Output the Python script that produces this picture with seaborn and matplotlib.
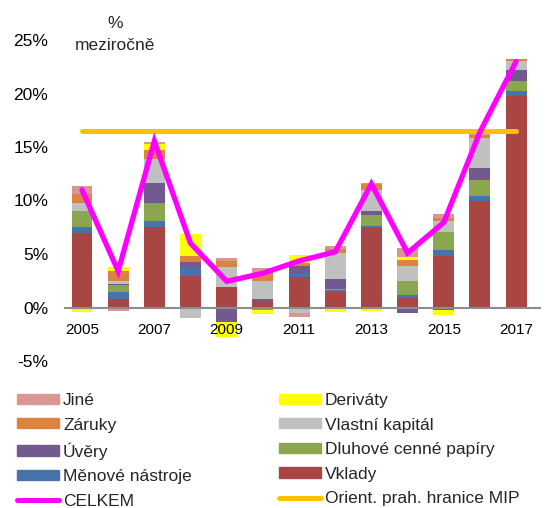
import numpy as np
import matplotlib
matplotlib.use("Agg")
import matplotlib.pyplot as plt
import seaborn as sns
from matplotlib.patches import Patch
from matplotlib.lines import Line2D

# ---------------- data ----------------
years = list(range(2005, 2018))
x_tick_labels = ["2005", "2007", "2009", "2011", "2013", "2015", "2017"]
y_ticks = [-5, 0, 5, 10, 15, 20, 25]

vklady = [6.95, 0.75, 7.5, 2.95, 1.95, 0.6, 2.85, 1.45, 7.45, 0.85, 4.85, 9.95, 19.8]
menove = [0.55, 0.7, 0.55, 0.7, -0.15, 0.0, 0.3, 0.15, 0.2, 0.35, 0.5, 0.5, 0.4]
dluhove = [1.55, 0.65, 1.7, 0.0, 0.0, -0.2, 0.0, 0.1, 0.95, 1.3, 1.7, 1.45, 0.95]
uvery = [-0.1, 0.1, 1.85, 0.6, -1.2, 0.15, 0.75, 1.0, 0.4, -0.5, -0.25, 1.1, 1.05]
vlastni = [0.75, 0.3, 2.3, -0.95, 1.8, 1.7, -0.5, 2.35, 1.95, 1.4, 1.0, 2.85, 0.8]
zaruky = [0.85, 0.95, 0.85, 0.6, 0.6, 0.8, 0.3, 0.4, 0.55, 0.55, 0.3, 0.3, 0.25]
derivaty = [-0.3, 0.3, 0.5, 2.0, -1.4, -0.4, 0.75, -0.45, -0.3, 0.3, -0.45, 0.0, 0.0]
jine = [0.7, -0.35, 0.25, 0.0, 0.25, 0.45, -0.35, 0.3, 0.15, 0.8, 0.4, 0.05, -0.15]
celkem = [11.0, 3.4, 15.55, 6.0, 2.45, 3.2, 4.35, 5.2, 11.55, 5.1, 7.95, 16.4, 23.0]
mip_threshold = 16.5

# stacking order bottom -> top
series = [
    ("Vklady", vklady, "#A94543"),
    ("Měnové nástroje", menove, "#4673AA"),
    ("Dluhové cenné papíry", dluhove, "#8AA64F"),
    ("Úvěry", uvery, "#725A90"),
    ("Vlastní kapitál", vlastni, "#C0C0C0"),
    ("Záruky", zaruky, "#DC843F"),
    ("Deriváty", derivaty, "#FFFF00"),
    ("Jiné", jine, "#D99694"),
]
col = {n: c for n, _, c in series}

sns.set_theme(style="white")
plt.rcParams["font.family"] = ["Liberation Sans", "DejaVu Sans"]

W, H = 545, 508
fig = plt.figure(figsize=(W / 100, H / 100), dpi=100)
ax = fig.add_axes([65 / W, 1 - 361 / H, 475 / W, 321 / H])

# cumulative levels for stacked bars (positive and negative separately)
pos_cum = np.zeros(len(years))
neg_cum = np.zeros(len(years))
pos_levels, neg_levels = [], []
for name, vals, c in series:
    v = np.array(vals, dtype=float)
    pos_cum = pos_cum + np.clip(v, 0, None)
    neg_cum = neg_cum + np.clip(v, None, 0)
    pos_levels.append((pos_cum.copy(), c))
    neg_levels.append((neg_cum.copy(), c))

for levels in (pos_levels, neg_levels):
    for lev, c in reversed(levels):
        sns.barplot(x=years, y=lev, color=c, saturation=1, width=0.58,
                    native_scale=True, errorbar=None, linewidth=0,
                    edgecolor="none", ax=ax, zorder=1)

sns.lineplot(x=[years[0], years[-1]], y=[mip_threshold, mip_threshold],
             color="#FFC000", linewidth=3.6, solid_capstyle="round", ax=ax,
             zorder=3)
sns.lineplot(x=years, y=celkem, color="#FF00FF", linewidth=3.8,
             solid_capstyle="round", solid_joinstyle="miter", ax=ax, zorder=4)

ax.set_axisbelow(False)
ax.set_ylim(-5, 25)
ax.set_xlim(years[0] - 0.47, years[-1] + 0.66)
ax.set_yticks(y_ticks)
ax.set_yticklabels([f"{t}%" for t in y_ticks], fontsize=12.5)
ax.set_xticks([int(t) for t in x_tick_labels])
ax.set_xticklabels(x_tick_labels, fontsize=12.5)
ax.set_xlabel("")
ax.set_ylabel("")
ax.grid(False)
for s in ("left", "right", "top"):
    ax.spines[s].set_visible(False)
ax.spines["bottom"].set_position(("data", 0))
ax.spines["bottom"].set_color("#8C8C8C")
ax.spines["bottom"].set_linewidth(1.5)
ax.tick_params(axis="x", length=0, pad=11, colors="black")
ax.tick_params(axis="y", length=0, pad=12, colors="black")
ax.patch.set_alpha(0)

fig.text(115 / W, 1 - 24 / H, "%", ha="center", va="center", fontsize=12.5)
fig.text(115 / W, 1 - 45 / H, "meziročně", ha="center", va="center", fontsize=12.5)

# legend (row-wise order as in reference)
col1 = [Patch(color=col["Jiné"], label="Jiné"),
        Patch(color=col["Záruky"], label="Záruky"),
        Patch(color=col["Úvěry"], label="Úvěry"),
        Patch(color=col["Měnové nástroje"], label="Měnové nástroje"),
        Line2D([], [], color="#FF00FF", lw=3.6, label="CELKEM")]
col2 = [Patch(color=col["Deriváty"], label="Deriváty"),
        Patch(color=col["Vlastní kapitál"], label="Vlastní kapitál"),
        Patch(color=col["Dluhové cenné papíry"], label="Dluhové cenné papíry"),
        Patch(color=col["Vklady"], label="Vklady"),
        Line2D([], [], color="#FFC000", lw=3.6, label="Orient. prah. hranice MIP")]
fig.legend(handles=col1 + col2, ncol=2, loc="upper left",
           bbox_to_anchor=(17 / W, 1 - 393 / H), frameon=False, fontsize=12.5,
           handlelength=2.42, handleheight=0.52, handletextpad=0.23,
           labelspacing=0.55, columnspacing=5.0, borderpad=0, borderaxespad=0)

fig.savefig("out.png", dpi=100)
